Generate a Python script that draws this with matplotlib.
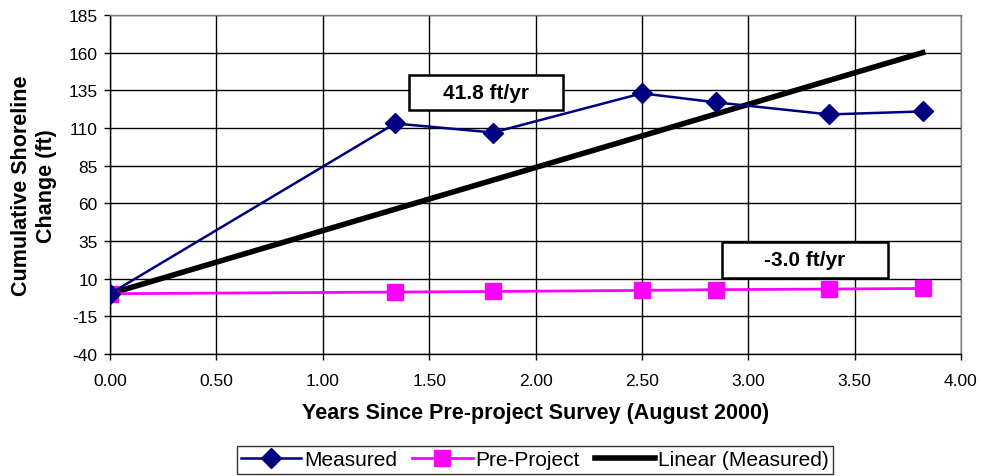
import numpy as np
import matplotlib
matplotlib.use("Agg")
import matplotlib.pyplot as plt
from matplotlib.patches import Rectangle

plt.rcParams["font.family"] = ["Liberation Sans", "DejaVu Sans"]
plt.rcParams["axes.unicode_minus"] = False

# data
years = [0.00, 1.34, 1.80, 2.50, 2.85, 3.38, 3.82]
measured = [0, 113, 107, 133, 127, 119, 121]
pre_project = [0, 1.1, 1.5, 2.2, 2.7, 3.1, 3.5]
y_ticks = [-40, -15, 10, 35, 60, 85, 110, 135, 160, 185]
x_ticks = [0.0, 0.5, 1.0, 1.5, 2.0, 2.5, 3.0, 3.5, 4.0]

# linear trend through origin (Excel "set intercept = 0")
x = np.array(years)
y = np.array(measured)
slope = (x * y).sum() / (x * x).sum()
fit_x = np.array([x.min(), x.max()])
fit_y = slope * fit_x

W, H = 981, 477
fig = plt.figure(figsize=(W / 100, H / 100), dpi=100)
ax = fig.add_axes([110 / W, 1 - 355 / H, (961 - 110) / W, (355 - 16) / H])

ax.plot(years, measured, color="#000080", lw=1.8, marker="D", ms=10,
        label="Measured", zorder=4)
ax.plot(years, pre_project, color="#FF00FF", lw=2, marker="s", ms=11,
        label="Pre-Project", zorder=3)
ax.plot(fit_x, fit_y, color="black", lw=4, label="Linear (Measured)", zorder=2)

ax.set_xlim(0, 4)
ax.set_ylim(-40, 185)
ax.set_xticks(x_ticks)
ax.set_yticks(y_ticks)
ax.set_xticklabels([f"{t:.2f}" for t in x_ticks])
ax.tick_params(labelsize=12.5, length=4, width=1, direction="out", pad=5)
ax.tick_params(axis="x", pad=10)
ax.grid(True, color="black", lw=1)
ax.set_axisbelow(True)
for s in ax.spines.values():
    s.set_color("black")
    s.set_linewidth(1)
ax.spines["top"].set_color("#808080")
ax.spines["right"].set_color("#808080")

ax.set_xlabel("Years Since Pre-project Survey (August 2000)", fontsize=15.5,
              fontweight="bold", labelpad=10)
fig.text(34 / W, 1 - 186 / H, "Cumulative Shoreline\nChange (ft)", rotation=90,
         ha="center", va="center", fontsize=15.5, fontweight="bold",
         linespacing=1.2)


def label_box(x0, y0, x1, y1, text):
    fig.patches.append(Rectangle((x0 / W, 1 - y1 / H), (x1 - x0) / W, (y1 - y0) / H,
                                 transform=fig.transFigure, fc="white",
                                 ec="black", lw=1.8, zorder=5))
    fig.text((x0 + x1) / 2 / W, 1 - (y0 + y1) / 2 / H, text, ha="center",
             va="center", fontsize=15, fontweight="bold", zorder=6)


label_box(409, 76, 563, 111, "41.8 ft/yr")
label_box(722, 243, 888, 279, "-3.0 ft/yr")

leg = fig.legend(loc="center", bbox_to_anchor=(535 / W, 1 - 461 / H), ncol=3,
                 fontsize=15, frameon=True, fancybox=False, edgecolor="black",
                 handlelength=2.9, columnspacing=0.7, handletextpad=0.15,
                 borderpad=0.2, borderaxespad=0)
leg.get_frame().set_linewidth(1)

fig.savefig("out.png", dpi=100)
